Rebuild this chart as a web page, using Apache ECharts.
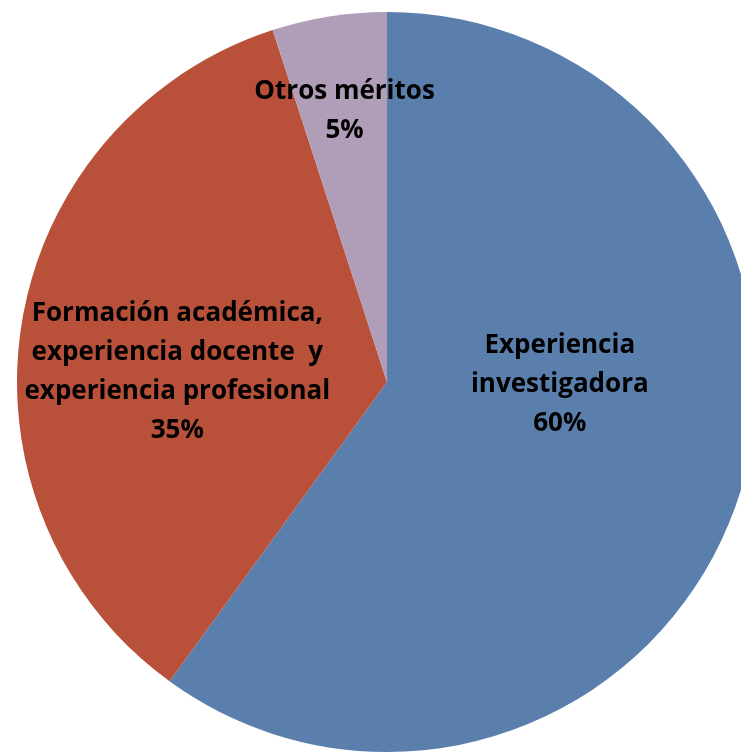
<!DOCTYPE html>
<html><head><meta charset="utf-8">
<script src="https://cdn.jsdelivr.net/npm/echarts@6/dist/echarts.min.js"></script>
<style>html,body{margin:0;padding:0;background:#fff}#c{width:741px;height:753px}</style>
</head><body><div id="c"></div>
<script>
const categories = ['Experiencia\ninvestigadora', 'Formación académica,\nexperiencia docente  y\nexperiencia profesional', 'Otros méritos'];
const values = [60, 35, 5];
const colors = ['#5B7FAC', '#B9513A', '#B09DB7'];
const labelShift = [[-6, -56], [-24, 20], [-13, -85]];

const chart = echarts.init(document.getElementById('c'));
chart.setOption({
  animation: false,
  series: [{
    type: 'pie',
    center: [387, 382],
    radius: 370,
    startAngle: 90,
    clockwise: true,
    data: categories.map((n, i) => ({ name: n, value: values[i], itemStyle: { color: colors[i] } })),
    label: {
      show: true,
      position: 'inside',
      formatter: '{b}\n{d}%',
      color: '#000',
      fontFamily: 'Open Sans',
      fontWeight: 'bold',
      fontSize: 26,
      lineHeight: 39,
      align: 'center'
    },
    labelLine: { show: false },
    labelLayout: function (p) { return { dx: labelShift[p.dataIndex][0], dy: labelShift[p.dataIndex][1] }; },
    emphasis: { disabled: true }
  }]
});
</script></body></html>
